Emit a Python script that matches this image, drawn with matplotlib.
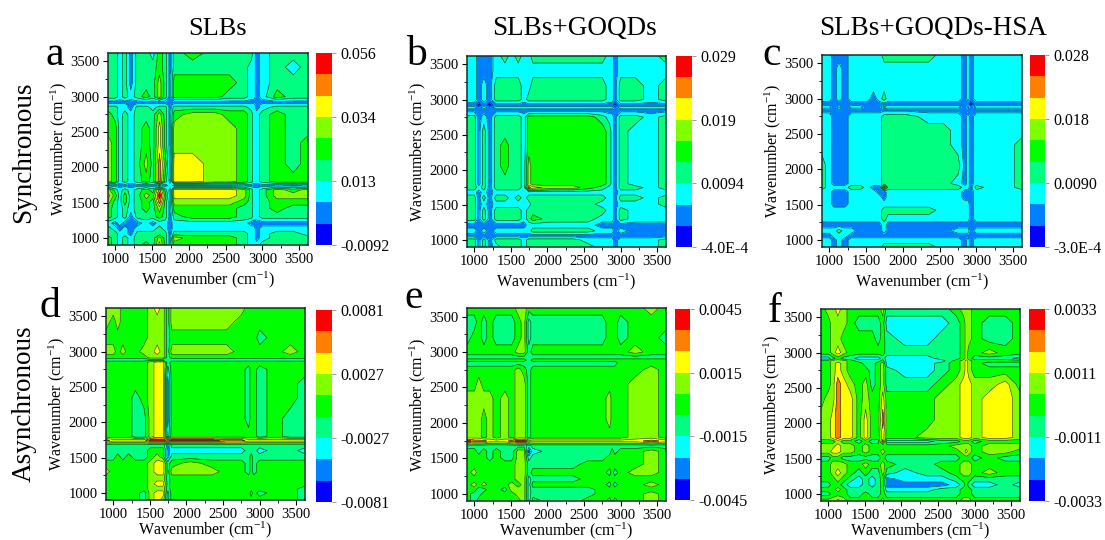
import numpy as np
import matplotlib
matplotlib.use('Agg')
import matplotlib.pyplot as plt
from matplotlib.ticker import MultipleLocator

plt.rcParams['font.family'] = ['Liberation Serif', 'DejaVu Serif']
plt.rcParams['mathtext.fontset'] = 'stix'
plt.rcParams['mathtext.default'] = 'regular'

# wavenumber positions of the values
wn_x = [900, 1000, 1060, 1130, 1210, 1300, 1420, 1510, 1600, 1680, 1745, 1800, 2050, 2350, 2550, 2750, 2850, 2885, 2920, 3000, 3200, 3420, 3620]
wn_y = wn_x[::-1]

# colour band read at each position, rows from the top of the map (0 = lowest, 8 = highest)
map_a = [
    [3,3,2,3,1,3,3,2,4,3,1,3,4,3,3,3,3,2,1,2,3,3,3],
    [3,3,2,3,1,3,3,3,4,3,1,3,3,3,3,3,2,2,1,2,3,2,3],
    [3,3,2,3,1,3,3,3,5,3,1,4,4,4,4,3,2,2,1,2,3,3,3],
    [3,3,2,3,2,3,4,3,5,3,1,4,4,4,3,3,2,2,1,2,4,3,3],
    [1,1,1,1,1,1,1,1,1,1,1,1,1,1,1,1,1,1,1,1,1,1,1],
    [2,2,2,2,1,2,2,2,2,2,1,2,2,2,2,2,2,2,1,2,2,2,2],
    [3,3,2,2,1,3,3,2,3,3,1,3,3,3,3,3,2,2,1,2,3,3,3],
    [4,3,2,3,2,3,3,3,5,3,1,4,5,5,4,4,3,2,2,3,4,3,3],
    [4,4,2,3,2,3,4,3,6,3,1,5,5,5,5,4,3,2,2,3,4,3,3],
    [5,4,2,3,2,3,4,3,6,3,1,5,5,5,5,4,3,2,2,3,4,3,4],
    [5,4,2,3,2,3,5,3,7,4,1,6,6,5,5,4,3,2,2,3,4,3,4],
    [5,4,2,3,2,3,4,3,7,3,1,6,6,5,5,4,3,2,2,3,4,4,4],
    [1,1,1,1,1,1,1,1,1,1,2,1,1,1,1,1,1,1,1,1,1,1,1],
    [5,3,2,3,2,3,4,3,7,3,1,6,6,6,6,5,3,2,2,3,5,4,5],
    [6,4,2,4,2,3,5,4,8,4,1,6,6,6,6,5,3,2,2,3,5,5,5],
    [5,3,2,4,2,3,4,3,7,3,1,5,5,5,5,4,3,2,2,3,4,4,4],
    [4,3,2,3,2,3,4,3,5,3,1,4,4,4,4,3,3,2,2,3,4,3,3],
    [4,3,2,3,1,3,3,3,4,3,1,3,4,4,4,3,3,2,2,3,3,3,3],
    [2,1,2,1,1,1,2,1,2,2,1,2,2,2,2,2,1,1,1,1,1,1,1],
    [3,2,1,2,1,2,2,2,3,2,1,2,2,2,2,2,2,2,1,2,2,2,2],
    [3,3,2,2,1,3,3,3,3,3,1,3,3,3,3,3,2,2,1,2,3,3,2],
    [4,3,2,3,2,3,3,3,5,3,1,5,4,4,4,3,2,2,1,2,3,3,3],
    [4,3,2,3,2,3,4,3,6,3,1,4,4,4,4,3,2,2,2,3,3,3,3],
]
map_b = [
    [2,2,1,1,1,2,3,2,3,2,2,3,3,3,3,3,2,2,1,2,2,2,3],
    [2,2,1,1,1,2,2,2,2,2,2,2,2,2,2,2,2,2,1,2,2,2,2],
    [2,2,1,2,1,3,3,3,3,2,2,3,3,3,3,3,2,2,1,3,3,2,3],
    [2,2,1,2,1,3,3,3,3,2,3,3,3,3,3,3,2,2,1,3,3,2,3],
    [1,1,0,1,0,1,1,1,1,1,1,1,1,1,1,1,1,1,0,1,1,1,1],
    [2,2,1,2,1,2,2,2,2,2,2,2,2,2,2,2,2,2,1,2,2,2,2],
    [1,1,1,1,1,1,1,1,1,1,1,1,1,1,1,1,1,1,1,1,1,1,1],
    [3,3,1,2,1,3,3,3,3,2,4,4,4,4,4,3,2,2,1,3,3,2,3],
    [3,3,1,3,1,3,3,3,3,2,4,4,4,4,4,4,3,2,1,3,2,2,3],
    [3,3,1,3,1,3,4,3,3,2,4,4,4,4,4,4,3,2,1,3,2,2,3],
    [3,3,1,3,1,3,4,3,3,2,5,4,4,4,4,4,3,2,1,3,2,2,3],
    [3,3,1,3,1,3,3,3,3,2,5,4,4,4,4,4,3,2,1,3,2,2,3],
    [3,3,2,3,1,3,3,3,3,2,7,6,5,5,4,3,2,2,1,3,3,2,3],
    [2,2,1,2,1,2,2,2,2,2,2,2,2,2,2,2,2,2,1,2,2,2,2],
    [3,3,1,3,1,3,3,2,3,2,3,3,3,3,3,3,2,2,1,3,3,2,3],
    [3,3,1,2,1,2,2,2,2,2,2,3,3,3,3,2,2,2,1,2,2,2,3],
    [3,3,1,3,1,3,3,3,3,2,3,3,3,3,3,3,2,2,1,3,2,2,2],
    [3,3,1,3,1,3,3,3,3,2,3,4,3,3,3,2,2,2,1,3,2,2,2],
    [1,1,1,1,1,1,1,1,1,1,2,2,2,2,2,1,1,1,1,1,1,1,1],
    [2,2,1,2,1,2,2,2,2,2,2,3,3,3,3,2,2,2,1,2,1,1,1],
    [1,1,1,1,1,1,1,1,1,1,1,1,1,1,1,1,1,1,1,1,1,1,1],
    [3,3,1,3,1,3,3,3,3,2,3,3,3,3,2,2,2,2,1,2,2,2,3],
    [3,3,1,3,1,2,3,3,3,2,3,3,3,3,3,2,2,2,1,2,2,2,3],
]
map_c = [
    [2,2,1,1,1,2,2,2,2,2,3,3,3,3,2,2,1,2,1,2,2,2,2],
    [2,2,1,2,1,2,2,2,2,2,2,2,2,2,2,2,1,2,1,2,2,2,2],
    [2,2,1,2,1,2,2,2,2,2,2,2,2,2,2,2,1,2,1,2,2,2,2],
    [2,2,1,2,1,2,2,2,1,2,3,2,2,2,2,2,1,2,1,2,2,2,2],
    [1,1,1,1,1,1,1,1,1,1,1,1,1,1,1,1,1,1,0,1,1,1,1],
    [2,2,1,2,1,2,2,1,1,1,3,2,2,2,2,2,1,2,1,2,2,2,2],
    [1,1,1,1,1,1,1,1,1,1,1,1,1,1,1,1,1,1,1,1,1,1,1],
    [2,2,1,1,1,2,2,2,2,2,3,3,3,2,2,2,1,2,1,2,2,2,2],
    [2,2,1,1,1,2,2,2,2,2,3,3,3,3,3,2,1,2,1,2,2,2,2],
    [2,2,1,1,1,2,2,2,2,2,3,3,3,3,3,2,1,2,1,2,2,2,3],
    [3,2,1,1,1,2,2,2,2,2,3,3,3,3,3,3,1,2,1,2,2,2,3],
    [3,2,1,1,1,2,2,2,2,2,3,3,3,3,3,2,1,2,1,2,2,2,3],
    [3,2,2,2,2,3,3,2,1,1,7,3,3,3,3,3,2,2,1,3,2,2,3],
    [2,2,1,1,1,2,2,2,2,1,1,2,2,2,2,2,1,1,1,2,2,2,2],
    [2,2,1,1,1,2,2,2,2,2,1,2,2,2,2,2,1,1,1,2,2,2,2],
    [2,2,1,1,1,2,2,2,2,2,2,2,2,2,2,2,2,2,1,2,2,2,2],
    [2,2,2,2,2,2,2,2,2,2,3,3,3,3,2,2,2,2,1,2,2,2,2],
    [2,2,2,2,2,2,2,2,2,2,3,2,2,2,2,2,2,2,1,2,2,2,2],
    [1,1,1,1,1,1,1,1,1,1,2,1,1,1,1,1,1,1,1,1,1,1,1],
    [2,2,2,3,2,2,1,1,1,1,2,1,1,1,1,2,2,2,1,2,2,2,2],
    [1,1,2,2,2,1,1,1,1,1,1,1,1,1,1,1,1,1,1,1,1,1,1],
    [2,2,1,2,1,2,2,2,2,2,2,2,2,2,2,2,1,2,1,2,2,2,2],
    [2,2,1,2,1,2,2,2,2,2,3,3,3,3,2,2,1,2,1,2,2,2,2],
]
map_d = [
    [5,5,5,4,4,4,4,5,6,5,3,5,5,5,5,5,4,4,4,4,4,4,4],
    [5,4,5,4,4,4,4,5,5,5,3,5,5,5,5,4,4,4,4,4,4,4,4],
    [4,4,4,4,4,4,4,5,5,5,3,4,4,4,4,4,4,4,4,3,4,4,4],
    [5,5,4,5,4,4,5,5,6,5,3,5,5,5,5,4,4,4,4,4,4,5,4],
    [4,4,4,4,4,4,4,5,5,5,3,4,4,4,4,4,4,4,4,4,4,4,4],
    [3,3,3,3,3,3,3,3,3,3,3,3,3,3,3,3,3,3,3,3,3,3,3],
    [4,4,4,4,4,4,4,5,6,6,3,4,4,4,4,4,4,4,4,4,4,4,4],
    [4,4,4,4,4,4,4,5,6,6,2,4,4,4,4,4,3,4,4,3,4,4,4],
    [4,4,4,4,4,4,4,5,6,6,1,4,4,4,4,4,3,4,4,3,4,4,3],
    [4,4,4,4,4,3,4,5,6,6,1,4,4,4,4,4,3,4,4,3,4,4,3],
    [4,4,4,4,4,3,3,5,6,6,1,4,4,4,4,4,3,4,4,3,4,3,3],
    [4,4,4,4,4,3,3,5,6,6,2,4,4,4,4,4,4,4,4,3,4,3,3],
    [7,6,6,6,6,6,6,8,8,8,7,8,8,8,7,7,6,6,6,6,6,6,6],
    [3,3,3,3,3,3,3,3,3,3,1,3,3,3,3,3,3,3,3,3,3,3,3],
    [3,3,3,3,3,3,3,4,4,4,1,2,2,2,2,2,3,3,3,2,3,3,2],
    [3,3,4,3,4,3,3,4,5,4,1,3,3,3,3,3,3,4,3,3,3,3,3],
    [4,4,4,4,4,4,4,5,6,6,3,4,5,4,4,4,3,4,3,4,4,4,4],
    [5,4,4,4,4,4,4,5,6,6,3,5,5,5,4,4,3,4,3,4,4,4,4],
    [4,4,4,4,4,4,4,5,5,5,3,4,4,4,4,4,4,4,4,4,4,4,4],
    [4,4,4,4,4,4,4,5,6,6,3,4,4,4,4,4,4,4,4,4,4,4,4],
    [4,4,4,4,4,4,4,5,5,5,3,4,4,4,4,4,4,4,4,4,4,4,3],
    [4,4,4,4,4,4,3,5,6,6,2,4,4,4,4,4,4,3,4,3,4,4,3],
    [4,4,4,4,4,4,3,5,6,5,2,4,4,4,4,4,4,4,4,4,4,4,3],
]
map_e = [
    [4,4,4,4,4,4,4,4,5,5,4,4,4,4,4,4,4,4,4,4,4,5,4],
    [3,3,4,3,4,3,3,3,4,5,2,3,3,3,3,3,4,4,4,3,4,4,4],
    [3,4,4,3,4,3,3,3,4,5,2,3,3,3,3,3,4,4,4,3,4,4,3],
    [4,4,4,4,4,4,4,4,5,5,3,4,4,4,4,4,4,4,4,4,5,4,4],
    [3,3,3,3,3,3,3,3,3,3,3,3,3,3,3,3,3,3,3,3,3,3,3],
    [4,4,4,4,4,4,4,4,4,4,3,4,4,4,4,4,4,4,4,4,4,4,4],
    [3,3,3,3,3,3,3,3,3,3,3,3,3,3,3,3,3,3,3,4,4,4,4],
    [4,4,4,4,4,4,4,4,5,4,3,4,4,4,4,4,4,4,4,4,4,5,4],
    [4,4,5,4,4,4,4,4,5,5,3,4,4,4,4,4,4,4,4,4,5,5,4],
    [5,5,5,5,5,4,5,4,5,5,3,4,4,4,4,4,5,4,4,4,5,5,4],
    [5,5,5,4,5,4,5,4,5,5,3,4,4,4,4,4,5,4,4,4,5,5,4],
    [5,5,5,4,5,4,5,4,5,5,3,4,4,4,4,4,4,4,4,4,5,5,4],
    [8,7,7,7,6,6,6,7,8,8,6,6,6,6,6,6,6,6,6,6,6,7,6],
    [3,3,3,3,3,3,3,3,3,3,2,3,3,3,3,3,3,3,3,3,3,3,3],
    [4,4,3,4,3,4,3,3,5,5,0,2,3,3,3,3,3,4,3,4,4,5,4],
    [4,4,4,4,3,4,3,3,5,5,2,3,3,3,3,3,4,4,4,4,4,5,4],
    [4,4,4,4,4,4,4,4,5,5,3,3,3,3,4,4,4,4,4,4,4,5,4],
    [4,5,4,4,4,4,4,4,5,5,3,4,4,4,4,4,3,4,3,4,5,5,4],
    [4,4,4,4,4,4,4,4,5,5,2,3,3,3,4,4,4,4,4,4,4,4,4],
    [4,5,4,5,4,4,4,5,4,5,2,4,4,4,4,4,3,4,3,4,4,5,4],
    [4,4,3,3,4,4,3,5,5,5,2,3,3,3,3,4,4,4,4,4,4,4,4],
    [4,3,3,4,4,4,4,4,5,5,2,3,3,3,3,4,4,4,4,4,4,5,4],
    [4,3,4,4,4,4,4,4,4,5,2,4,3,3,4,4,3,4,3,4,4,5,4],
]
map_f = [
    [4,5,5,6,5,4,4,4,4,4,5,3,3,3,3,4,5,5,5,4,4,4,4],
    [4,4,5,5,5,4,3,3,3,3,4,2,2,2,2,3,4,5,5,4,3,3,4],
    [4,4,5,5,4,4,4,4,4,3,4,3,2,2,3,3,4,5,5,4,3,3,4],
    [4,4,5,6,5,4,4,4,4,4,4,3,3,3,3,3,4,5,4,4,5,4,4],
    [2,2,3,4,3,3,2,2,2,2,3,2,2,2,3,3,4,5,4,3,3,3,2],
    [4,4,5,5,5,4,3,3,3,3,4,2,2,2,2,4,5,6,5,4,4,4,4],
    [4,4,5,6,5,4,4,3,3,4,5,2,2,2,3,4,5,6,5,4,3,3,3],
    [4,4,5,6,5,4,4,4,3,4,5,3,2,2,3,4,5,6,5,4,4,4,4],
    [4,4,5,7,6,5,4,5,3,4,5,3,3,3,4,5,6,6,6,5,5,6,4],
    [4,5,5,7,6,6,4,5,4,4,6,4,4,4,5,5,6,6,6,5,6,6,5],
    [5,5,6,7,6,6,4,6,4,4,7,4,4,4,5,5,6,6,6,5,6,6,5],
    [5,5,6,7,6,6,4,6,4,4,6,4,4,5,5,5,6,6,6,5,6,6,5],
    [4,4,4,5,4,4,3,4,3,3,7,2,2,2,3,3,4,4,4,3,4,4,4],
    [5,5,5,6,5,5,4,5,4,4,4,4,4,4,4,5,5,5,5,4,5,5,5],
    [5,5,6,6,5,5,4,5,4,4,5,4,4,4,4,4,5,6,5,4,5,5,4],
    [3,3,4,4,3,3,3,3,3,3,4,3,3,3,3,3,4,4,4,3,4,3,3],
    [4,4,5,5,5,4,4,5,4,4,5,4,3,3,4,4,5,5,5,4,4,4,4],
    [4,4,5,6,5,4,3,4,3,3,5,3,2,3,3,4,5,5,5,4,5,4,4],
    [4,4,4,5,4,3,2,3,2,3,4,1,2,2,2,3,4,4,4,3,3,3,3],
    [3,3,4,4,3,2,2,3,2,3,4,1,1,1,1,2,3,4,3,2,2,3,2],
    [4,4,4,5,4,3,3,3,3,3,4,2,2,2,3,3,4,4,4,3,3,3,3],
    [3,3,4,4,4,3,3,4,3,3,4,3,3,3,3,3,4,4,4,3,3,3,3],
    [5,5,5,6,5,4,4,4,4,4,5,4,4,4,4,4,5,5,5,4,4,4,4],
]

# colour bar ranges and their labels
range_a = [-0.0092, 0.056]
range_b = [-0.0004, 0.029]
range_c = [-0.0003, 0.028]
range_d = [-0.0081, 0.0081]
range_e = [-0.0045, 0.0045]
range_f = [-0.0033, 0.0033]
labels_a = ['-0.0092', '0.013', '0.034', '0.056']
labels_b = ['-4.0E-4', '0.0094', '0.019', '0.029']
labels_c = ['-3.0E-4', '0.0090', '0.018', '0.028']
labels_d = ['-0.0081', '-0.0027', '0.0027', '0.0081']
labels_e = ['-0.0045', '-0.0015', '0.0015', '0.0045']
labels_f = ['-0.0033', '-0.0011', '0.0011', '0.0033']

band_colors = ['#0000ff', '#0080ff', '#00ffff', '#00ff80', '#00ff00',
               '#80ff00', '#ffff00', '#ff8000', '#ff0000']

W, H = 1105, 540
fig = plt.figure(figsize=(W / 100, H / 100), dpi=100)


def px_axes(x0, y0, x1, y1):
    return fig.add_axes([x0 / W, 1 - y1 / H, (x1 - x0) / W, (y1 - y0) / H])


def panel(box, cbox, grid, vrange, cb_labels, letter, letter_xy, xlabel, ylabel, xpad=2):
    ax = px_axes(*box)
    cax = px_axes(*cbox)
    step = (vrange[1] - vrange[0]) / 9
    levels = [vrange[0] + i * step for i in range(10)]
    z = vrange[0] + (np.array(grid)[::-1] + 0.5) * step
    y = wn_y[::-1]
    cf = ax.contourf(wn_x, y, z, levels=levels, colors=band_colors)
    ax.contour(wn_x, y, z, levels=levels[1:-1], colors='#12403c', linewidths=0.45, linestyles='solid')
    ax.set_xlim(900, 3620)
    ax.set_ylim(900, 3620)
    for axis in (ax.xaxis, ax.yaxis):
        axis.set_major_locator(MultipleLocator(500))
        axis.set_minor_locator(MultipleLocator(250))
    ax.tick_params(which='major', labelsize=10.5, length=3.5, width=0.8, pad=2.5)
    ax.tick_params(which='minor', length=2, width=0.6)
    ax.set_xlabel(xlabel, fontsize=11.5, labelpad=xpad)
    ax.set_ylabel(ylabel, fontsize=11.5, labelpad=1)
    for s in ax.spines.values():
        s.set_linewidth(1.1)
        s.set_color('#10302c')

    cb = fig.colorbar(cf, cax=cax)
    cb.set_ticks([levels[0], levels[3], levels[6], levels[9]])
    cb.set_ticklabels(cb_labels)
    cb.minorticks_off()
    cb.outline.set_visible(False)
    cb.dividers.set_visible(False)
    cax.tick_params(labelsize=11.5, length=3, width=0.6, color='#888888', pad=3)
    fig.text(letter_xy[0] / W, 1 - letter_xy[1] / H, letter, fontsize=30, ha='center', va='baseline')


wl = 'Wavenumber (cm$^{-1}$)'
wls = 'Wavenumbers (cm$^{-1}$)'
panel((108, 53, 308, 245), (316, 53, 332, 245), map_a, range_a, labels_a, 'a', (55, 65), wl, wl)
panel((467, 56, 666, 247), (676, 56, 692, 247), map_b, range_b, labels_b, 'b', (416, 65), wls, wls)
panel((822, 55, 1022, 247), (1030, 55, 1045, 247), map_c, range_c, labels_c, 'c', (772, 65), wl, wl)
panel((106, 308, 305, 500), (316, 310, 332, 502), map_d, range_d, labels_d, 'd', (50, 317), wl, wl, xpad=-1)
panel((467, 308, 666, 501), (675, 309, 690, 500), map_e, range_e, labels_e, 'e', (414, 308), wl, wl, xpad=-1.5)
panel((821, 309, 1020, 501), (1029, 309, 1045, 501), map_f, range_f, labels_f, 'f', (775, 322), wls, wls, xpad=-1.5)

# column titles and row labels
fig.text(218 / W, 1 - 35 / H, 'SLBs', fontsize=19, ha='center', va='baseline')
fig.text(575 / W, 1 - 35 / H, 'SLBs+GOQDs', fontsize=19.5, ha='center', va='baseline')
fig.text(933 / W, 1 - 35 / H, 'SLBs+GOQDs-HSA', fontsize=19.5, ha='center', va='baseline')
fig.text(24 / W, 1 - 152 / H, 'Synchronous', fontsize=19.5, rotation=90, ha='center', va='center')
fig.text(24 / W, 1 - 404 / H, 'Asynchronous', fontsize=19.5, rotation=90, ha='center', va='center')

fig.savefig('out.png', dpi=100)
